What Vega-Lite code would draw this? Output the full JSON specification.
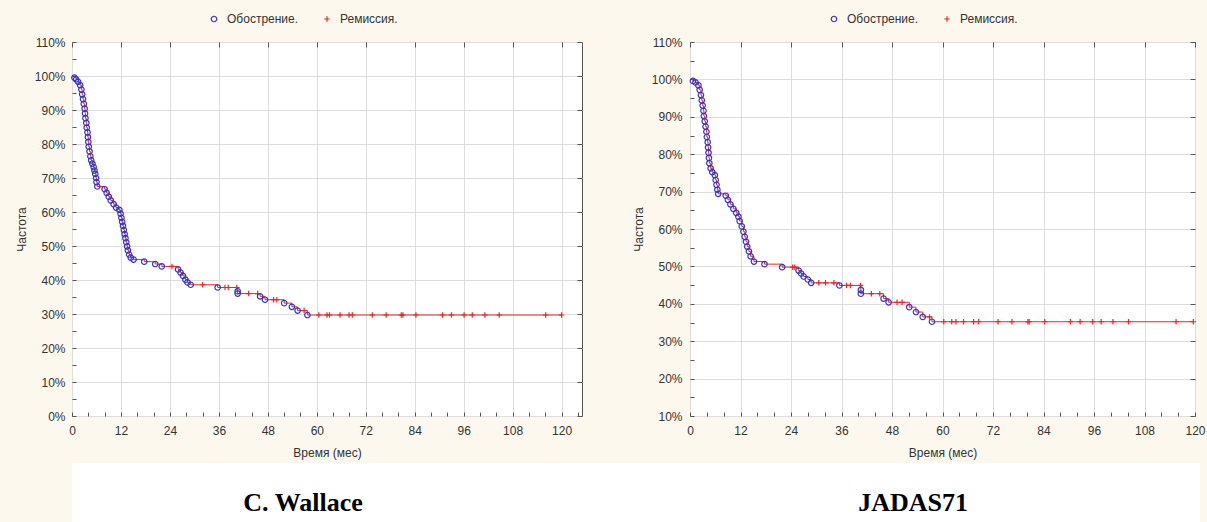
{
  "$schema": "https://vega.github.io/schema/vega-lite/v6.json",
  "background": "#fcf8ed",
  "padding": {"left": 14, "top": 12, "right": 7, "bottom": 0},
  "config": {
    "view": {"fill": "white", "stroke": "#555555", "strokeWidth": 1},
    "axis": {
      "domain": false,
      "labelFont": "Liberation Sans", "labelFontSize": 12, "labelColor": "#333333",
      "titleFont": "Liberation Sans", "titleFontSize": 12, "titleFontWeight": "normal", "titleColor": "#333333",
      "tickColor": "#555555", "gridColor": "#dddddd", "labelFlush": false, "labelOverlap": false
    },
    "legend": {"labelFont": "Liberation Sans", "labelFontSize": 12, "labelColor": "#333333"}
  },
  "datasets": {
    "wallace": [
      {"t":0,"S":100,"s":"S"},
      {"t":0.6,"S":99.5,"s":"E"},{"t":1.0,"S":99.0,"s":"E"},{"t":1.5,"S":98.3,"s":"E"},{"t":2.0,"S":97.3,"s":"E"},
      {"t":2.3,"S":96.0,"s":"E"},{"t":2.5,"S":94.6,"s":"E"},{"t":2.7,"S":93.2,"s":"E"},{"t":2.9,"S":91.8,"s":"E"},
      {"t":3.1,"S":90.4,"s":"E"},{"t":3.2,"S":89.0,"s":"E"},{"t":3.3,"S":87.6,"s":"E"},{"t":3.5,"S":86.2,"s":"E"},
      {"t":3.6,"S":84.8,"s":"E"},{"t":3.8,"S":83.4,"s":"E"},{"t":3.9,"S":82.0,"s":"E"},{"t":4.0,"S":80.6,"s":"E"},
      {"t":4.1,"S":79.2,"s":"E"},{"t":4.3,"S":77.8,"s":"E"},{"t":4.5,"S":76.4,"s":"E"},{"t":4.7,"S":75.2,"s":"E"},
      {"t":5.0,"S":74.2,"s":"E"},{"t":5.3,"S":73.2,"s":"E"},{"t":5.5,"S":72.2,"s":"E"},{"t":5.7,"S":71.2,"s":"E"},
      {"t":5.9,"S":70.0,"s":"E"},{"t":6.0,"S":68.8,"s":"E"},{"t":6.2,"S":67.5,"s":"E"},{"t":8.0,"S":66.7,"s":"E"},
      {"t":8.5,"S":65.6,"s":"E"},{"t":9.0,"S":64.5,"s":"E"},{"t":9.5,"S":63.4,"s":"E"},{"t":10.2,"S":62.3,"s":"E"},
      {"t":10.8,"S":61.3,"s":"E"},{"t":11.6,"S":60.6,"s":"E"},{"t":11.9,"S":59.5,"s":"E"},{"t":12.1,"S":58.3,"s":"E"},
      {"t":12.3,"S":57.1,"s":"E"},{"t":12.5,"S":55.9,"s":"E"},{"t":12.7,"S":54.7,"s":"E"},{"t":12.9,"S":53.5,"s":"E"},
      {"t":13.1,"S":52.3,"s":"E"},{"t":13.3,"S":51.1,"s":"E"},{"t":13.5,"S":49.9,"s":"E"},{"t":13.7,"S":48.7,"s":"E"},
      {"t":14.0,"S":47.5,"s":"E"},{"t":14.4,"S":46.6,"s":"E"},{"t":15.1,"S":46.0,"s":"E"},{"t":17.7,"S":45.4,"s":"E"},
      {"t":20.4,"S":44.7,"s":"E"},{"t":22.0,"S":44.0,"s":"E"},{"t":24.5,"S":44.0,"s":"C"},
      {"t":26.0,"S":43.1,"s":"E"},{"t":26.6,"S":42.2,"s":"E"},{"t":27.2,"S":41.2,"s":"E"},{"t":27.8,"S":40.1,"s":"E"},
      {"t":28.3,"S":39.3,"s":"E"},{"t":29.1,"S":38.6,"s":"E"},{"t":32.0,"S":38.6,"s":"C"},{"t":35.7,"S":37.8,"s":"E"},
      {"t":37.5,"S":37.8,"s":"C"},{"t":38.3,"S":37.8,"s":"C"},{"t":40.4,"S":37.8,"s":"C"},
      {"t":40.6,"S":36.7,"s":"E"},{"t":40.6,"S":36.0,"s":"E"},{"t":43.3,"S":36.0,"s":"C"},{"t":45.5,"S":36.0,"s":"C"},
      {"t":46.1,"S":35.2,"s":"E"},{"t":47.3,"S":34.2,"s":"E"},{"t":49.4,"S":34.2,"s":"C"},{"t":50.2,"S":34.2,"s":"C"},
      {"t":52.0,"S":33.2,"s":"E"},{"t":53.9,"S":32.1,"s":"E"},{"t":55.3,"S":31.0,"s":"E"},{"t":56.9,"S":31.0,"s":"C"},
      {"t":57.7,"S":29.7,"s":"E"},
      {"t":60.5,"S":29.7,"s":"C"},{"t":62.5,"S":29.7,"s":"C"},{"t":63.1,"S":29.7,"s":"C"},{"t":65.7,"S":29.7,"s":"C"},
      {"t":67.9,"S":29.7,"s":"C"},{"t":68.7,"S":29.7,"s":"C"},{"t":73.6,"S":29.7,"s":"C"},{"t":77.0,"S":29.7,"s":"C"},
      {"t":80.7,"S":29.7,"s":"C"},{"t":81.1,"S":29.7,"s":"C"},{"t":84.3,"S":29.7,"s":"C"},{"t":90.8,"S":29.7,"s":"C"},
      {"t":93.0,"S":29.7,"s":"C"},{"t":96.1,"S":29.7,"s":"C"},{"t":98.1,"S":29.7,"s":"C"},{"t":101.2,"S":29.7,"s":"C"},
      {"t":104.7,"S":29.7,"s":"C"},{"t":116.1,"S":29.7,"s":"C"},{"t":120.0,"S":29.7,"s":"C"}
    ],
    "jadas": [
      {"t":0,"S":100,"s":"S"},
      {"t":0.7,"S":99.6,"s":"E"},{"t":1.3,"S":99.2,"s":"E"},{"t":2.0,"S":98.4,"s":"E"},{"t":2.3,"S":97.2,"s":"E"},
      {"t":2.6,"S":95.8,"s":"E"},{"t":2.8,"S":94.4,"s":"E"},{"t":3.0,"S":93.0,"s":"E"},{"t":3.2,"S":91.6,"s":"E"},
      {"t":3.3,"S":90.2,"s":"E"},{"t":3.5,"S":88.8,"s":"E"},{"t":3.7,"S":87.4,"s":"E"},{"t":3.9,"S":86.0,"s":"E"},
      {"t":4.0,"S":84.6,"s":"E"},{"t":4.2,"S":83.2,"s":"E"},{"t":4.3,"S":81.8,"s":"E"},{"t":4.4,"S":80.4,"s":"E"},
      {"t":4.5,"S":79.0,"s":"E"},{"t":4.6,"S":77.6,"s":"E"},{"t":4.9,"S":76.2,"s":"E"},{"t":5.3,"S":75.2,"s":"E"},
      {"t":5.9,"S":74.4,"s":"E"},{"t":6.1,"S":73.1,"s":"E"},{"t":6.3,"S":71.8,"s":"E"},{"t":6.5,"S":70.5,"s":"E"},
      {"t":6.7,"S":69.4,"s":"E"},{"t":8.5,"S":68.9,"s":"E"},{"t":9.0,"S":67.8,"s":"E"},{"t":9.6,"S":66.6,"s":"E"},
      {"t":10.3,"S":65.4,"s":"E"},{"t":11.0,"S":64.3,"s":"E"},{"t":11.5,"S":63.3,"s":"E"},{"t":11.8,"S":62.1,"s":"E"},
      {"t":12.3,"S":60.7,"s":"E"},{"t":12.7,"S":59.3,"s":"E"},{"t":13.0,"S":57.9,"s":"E"},{"t":13.3,"S":56.6,"s":"E"},
      {"t":13.6,"S":55.3,"s":"E"},{"t":14.0,"S":54.0,"s":"E"},{"t":14.4,"S":52.7,"s":"E"},{"t":15.2,"S":51.3,"s":"E"},
      {"t":17.7,"S":50.6,"s":"E"},{"t":21.9,"S":49.8,"s":"E"},{"t":24.4,"S":49.8,"s":"C"},{"t":24.9,"S":49.8,"s":"C"},
      {"t":25.8,"S":48.9,"s":"E"},{"t":26.4,"S":48.1,"s":"E"},{"t":27.0,"S":47.3,"s":"E"},{"t":28.0,"S":46.5,"s":"E"},
      {"t":28.8,"S":45.6,"s":"E"},{"t":30.6,"S":45.6,"s":"C"},{"t":32.2,"S":45.6,"s":"C"},{"t":34.2,"S":45.6,"s":"C"},
      {"t":35.5,"S":44.9,"s":"E"},{"t":37.2,"S":44.9,"s":"C"},{"t":38.1,"S":44.9,"s":"C"},{"t":40.5,"S":44.9,"s":"C"},
      {"t":40.6,"S":43.7,"s":"E"},{"t":40.6,"S":42.7,"s":"E"},{"t":43.1,"S":42.7,"s":"C"},{"t":45.1,"S":42.7,"s":"C"},
      {"t":46.0,"S":41.4,"s":"E"},{"t":47.2,"S":40.4,"s":"E"},{"t":49.2,"S":40.4,"s":"C"},{"t":50.4,"S":40.4,"s":"C"},
      {"t":52.1,"S":39.1,"s":"E"},{"t":53.7,"S":37.8,"s":"E"},{"t":55.3,"S":36.5,"s":"E"},{"t":56.9,"S":36.5,"s":"C"},
      {"t":57.5,"S":35.2,"s":"E"},
      {"t":60.3,"S":35.2,"s":"C"},{"t":62.2,"S":35.2,"s":"C"},{"t":63.2,"S":35.2,"s":"C"},{"t":65.0,"S":35.2,"s":"C"},
      {"t":67.4,"S":35.2,"s":"C"},{"t":68.6,"S":35.2,"s":"C"},{"t":73.2,"S":35.2,"s":"C"},{"t":76.5,"S":35.2,"s":"C"},
      {"t":80.3,"S":35.2,"s":"C"},{"t":80.6,"S":35.2,"s":"C"},{"t":84.3,"S":35.2,"s":"C"},{"t":90.4,"S":35.2,"s":"C"},
      {"t":92.7,"S":35.2,"s":"C"},{"t":95.7,"S":35.2,"s":"C"},{"t":97.7,"S":35.2,"s":"C"},{"t":100.5,"S":35.2,"s":"C"},
      {"t":104.2,"S":35.2,"s":"C"},{"t":115.5,"S":35.2,"s":"C"},{"t":119.6,"S":35.2,"s":"C"}
    ]
  },
  "vconcat": [
    {
      "hconcat": [
        {
          "width": 510, "height": 374,
          "data": {"name": "wallace"},
          "layer": [
            {
              "mark": {"type": "line", "interpolate": "step-after", "color": "#e8262b", "strokeWidth": 1},
              "encoding": {
                "x": {"field": "t", "type": "quantitative", "scale": {"domain": [0, 125], "nice": false, "zero": false},
                  "axis": {"orient": "bottom", "values": [0,4,8,12,16,20,24,28,32,36,40,44,48,52,56,60,64,68,72,76,80,84,88,92,96,100,104,108,112,116,120,124],
                    "labelExpr": "datum.value % 12 === 0 ? datum.label : ''", "grid": false, "tickSize": -4, "labelPadding": 13, "title": "Время (мес)", "titlePadding": 11}},
                "y": {"field": "S", "type": "quantitative", "scale": {"domain": [0, 110], "nice": false, "zero": false},
                  "axis": {"orient": "left", "values": [0,5,10,15,20,25,30,35,40,45,50,55,60,65,70,75,80,85,90,95,100,105,110],
                    "labelExpr": "datum.value % 10 === 0 ? datum.value + '%' : ''", "grid": false, "tickSize": -4, "labelPadding": 11, "title": "Частота", "titlePadding": 6}},
                "order": [{"field": "t", "type": "quantitative"}, {"field": "S", "type": "quantitative", "sort": "descending"}]
              }
            },
            {
              "transform": [{"filter": "datum.s !== 'S'"}],
              "mark": {"type": "point", "filled": false, "strokeWidth": 1.2, "size": 30, "opacity": 1},
              "encoding": {
                "x": {"field": "t", "type": "quantitative", "scale": {"domain": [0, 125], "nice": false, "zero": false},
                  "axis": {"orient": "top", "values": [0,12,24,36,48,60,72,84,96,108,120], "labels": false, "grid": true, "tickSize": -5, "title": null}},
                "y": {"field": "S", "type": "quantitative", "scale": {"domain": [0, 110], "nice": false, "zero": false},
                  "axis": {"orient": "right", "values": [0,10,20,30,40,50,60,70,80,90,100,110], "labels": false, "grid": true, "tickSize": -5, "title": null}},
                "color": {"field": "s", "type": "nominal", "scale": {"domain": ["E", "C"], "range": ["#3535c4", "#e8262b"]},
                  "legend": {"orient": "none", "legendX": 136, "legendY": -29, "direction": "horizontal", "title": null, "symbolSize": 30, "symbolStrokeWidth": 1.2, "columnPadding": 22, "labelOffset": 7,
                    "labelExpr": "datum.value === 'E' ? 'Обострение.' : 'Ремиссия.'"}},
                "shape": {"field": "s", "type": "nominal", "scale": {"domain": ["E", "C"], "range": ["circle", "M-1,0H1M0,-1V1"]},
                  "legend": {"orient": "none", "legendX": 136, "legendY": -29, "direction": "horizontal", "title": null, "symbolSize": 30, "symbolStrokeWidth": 1.2, "columnPadding": 22, "labelOffset": 7,
                    "labelExpr": "datum.value === 'E' ? 'Обострение.' : 'Ремиссия.'"}}
              }
            }
          ],
          "resolve": {"axis": {"x": "independent", "y": "independent"}}
        },
        {
          "width": 505, "height": 374,
          "data": {"name": "jadas"},
          "layer": [
            {
              "mark": {"type": "line", "interpolate": "step-after", "color": "#e8262b", "strokeWidth": 1},
              "encoding": {
                "x": {"field": "t", "type": "quantitative", "scale": {"domain": [0, 120], "nice": false, "zero": false},
                  "axis": {"orient": "bottom", "values": [0,4,8,12,16,20,24,28,32,36,40,44,48,52,56,60,64,68,72,76,80,84,88,92,96,100,104,108,112,116,120],
                    "labelExpr": "datum.value % 12 === 0 ? datum.label : ''", "grid": false, "tickSize": -4, "labelPadding": 13, "title": "Время (мес)", "titlePadding": 11}},
                "y": {"field": "S", "type": "quantitative", "scale": {"domain": [10, 110], "nice": false, "zero": false},
                  "axis": {"orient": "left", "values": [10,15,20,25,30,35,40,45,50,55,60,65,70,75,80,85,90,95,100,105,110],
                    "labelExpr": "datum.value % 10 === 0 ? datum.value + '%' : ''", "grid": false, "tickSize": -4, "labelPadding": 12, "title": "Частота", "titlePadding": 6}},
                "order": [{"field": "t", "type": "quantitative"}, {"field": "S", "type": "quantitative", "sort": "descending"}]
              }
            },
            {
              "transform": [{"filter": "datum.s !== 'S'"}],
              "mark": {"type": "point", "filled": false, "strokeWidth": 1.2, "size": 30, "opacity": 1},
              "encoding": {
                "x": {"field": "t", "type": "quantitative", "scale": {"domain": [0, 120], "nice": false, "zero": false},
                  "axis": {"orient": "top", "values": [0,12,24,36,48,60,72,84,96,108,120], "labels": false, "grid": true, "tickSize": -5, "title": null}},
                "y": {"field": "S", "type": "quantitative", "scale": {"domain": [10, 110], "nice": false, "zero": false},
                  "axis": {"orient": "right", "values": [10,20,30,40,50,60,70,80,90,100,110], "labels": false, "grid": true, "tickSize": -5, "title": null}},
                "color": {"field": "s", "type": "nominal", "scale": {"domain": ["E", "C"], "range": ["#3535c4", "#e8262b"]},
                  "legend": {"orient": "none", "legendX": 138, "legendY": -29, "direction": "horizontal", "title": null, "symbolSize": 30, "symbolStrokeWidth": 1.2, "columnPadding": 22, "labelOffset": 7,
                    "labelExpr": "datum.value === 'E' ? 'Обострение.' : 'Ремиссия.'"}},
                "shape": {"field": "s", "type": "nominal", "scale": {"domain": ["E", "C"], "range": ["circle", "M-1,0H1M0,-1V1"]},
                  "legend": {"orient": "none", "legendX": 138, "legendY": -29, "direction": "horizontal", "title": null, "symbolSize": 30, "symbolStrokeWidth": 1.2, "columnPadding": 22, "labelOffset": 7,
                    "labelExpr": "datum.value === 'E' ? 'Обострение.' : 'Ремиссия.'"}}
              }
            }
          ],
          "resolve": {"axis": {"x": "independent", "y": "independent"}}
        }
      ],
      "spacing": 48,
      "resolve": {"scale": {"x": "independent", "y": "independent", "color": "independent", "shape": "independent"}, "legend": {"color": "independent", "shape": "independent"}}
    },
    {
      "width": 1128, "height": 59,
      "view": {"stroke": null, "fill": "white"},
      "data": {"values": [{"name": "C. Wallace"}, {"name": "JADAS71"}]},
      "mark": {"type": "text", "font": "Liberation Serif", "fontWeight": "bold", "fontSize": 26, "color": "black", "dy": 10},
      "encoding": {
        "x": {"field": "name", "type": "nominal", "sort": null, "axis": null, "scale": {"padding": 0.4246, "align": 0.446}},
        "text": {"field": "name"}
      }
    }
  ],
  "spacing": 4
}
